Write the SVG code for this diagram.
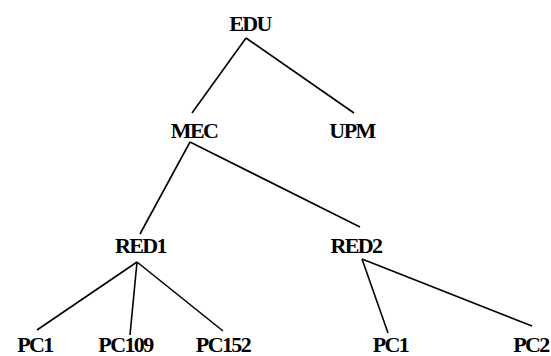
<svg xmlns="http://www.w3.org/2000/svg" width="551" height="356" viewBox="0 0 551 356">
<style>
text{font-family:"Liberation Serif","Times New Roman",serif;font-size:22px;font-weight:bold;fill:#000;text-anchor:middle;letter-spacing:-1.6px}
line{stroke:#000;stroke-width:1.6}
</style>
<rect width="551" height="356" fill="#fff"/>
<g id="connectors">
<line x1="246" y1="38" x2="192" y2="113"/>
<line x1="246" y1="38" x2="354" y2="113"/>
<line x1="190" y1="142" x2="140" y2="234"/>
<line x1="190" y1="142" x2="360" y2="227"/>
<line x1="137" y1="262" x2="37" y2="330"/>
<line x1="137" y1="262" x2="130" y2="335"/>
<line x1="137" y1="262" x2="223" y2="331"/>
<line x1="362" y1="259" x2="388" y2="333"/>
<line x1="362" y1="259" x2="532" y2="326"/>
</g>
<g id="EDU"><text x="250" y="31">EDU</text></g>
<g id="MEC"><text x="194" y="138">MEC</text></g>
<g id="UPM"><text x="352" y="138">UPM</text></g>
<g id="RED1"><text x="140.5" y="253">RED1</text></g>
<g id="RED2"><text x="356" y="253">RED2</text></g>
<g id="PC1a"><text x="35" y="352">PC1</text></g>
<g id="PC109"><text x="125.5" y="352">PC109</text></g>
<g id="PC152"><text x="223" y="352">PC152</text></g>
<g id="PC1b"><text x="390.5" y="352">PC1</text></g>
<g id="PC2"><text x="531" y="352">PC2</text></g>
</svg>
